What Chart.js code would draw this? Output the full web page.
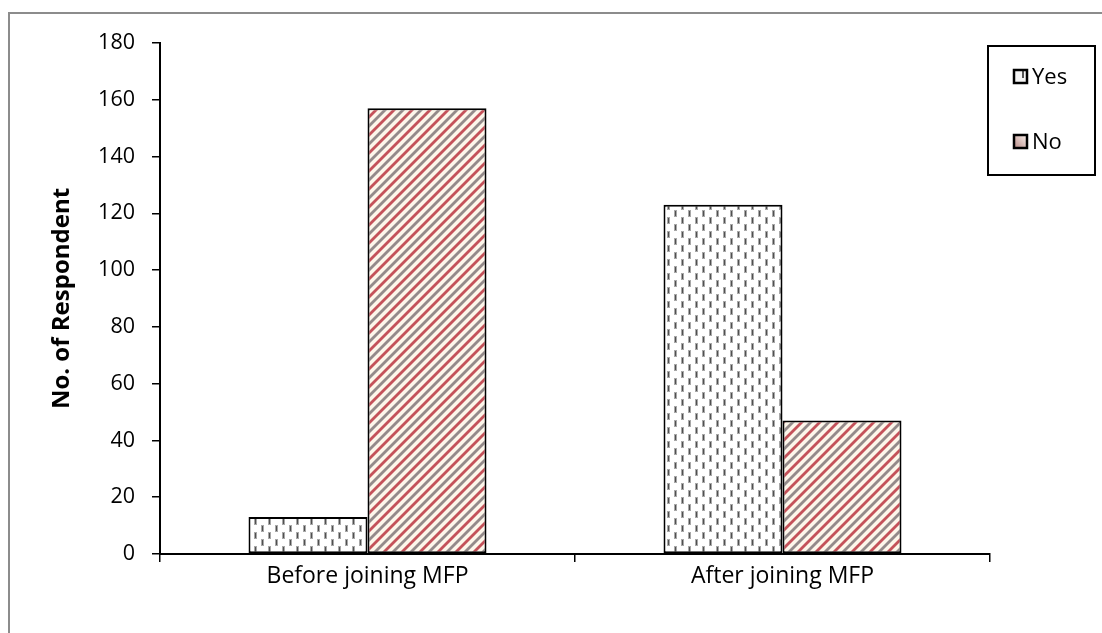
<!DOCTYPE html>
<html>
<head>
<meta charset="utf-8">
<script src="https://cdn.jsdelivr.net/npm/chart.js@4/dist/chart.umd.min.js"></script>
<style>
  html, body { margin: 0; padding: 0; background: #ffffff; }
  #wrap { width: 1102px; height: 633px; position: relative; }
</style>
</head>
<body>
<div id="wrap"><canvas id="chart" width="1102" height="633"></canvas></div>
<script>
// Survey data: respondents answering Yes / No before and after joining MFP
const categories = ['Before joining MFP', 'After joining MFP'];
const seriesNames = ['Yes', 'No'];
const yesValues = [13, 123];
const noValues = [157, 47];
const yTicks = [0, 20, 40, 60, 80, 100, 120, 140, 160, 180];
const yAxisTitle = 'No. of Respondent';

const FONT = '"Open Sans", Lato, sans-serif';
const TICK_SIZE = 21.5;
const LABEL_SIZE = 23;
const TITLE_SIZE = 24;
const LEGEND_SIZE = 22;

// Fill pattern: staggered short vertical dashes on white
function makeDotPattern() {
  const c = document.createElement('canvas');
  c.width = 14; c.height = 14;
  const g = c.getContext('2d');
  g.fillStyle = '#ffffff';
  g.fillRect(0, 0, 14, 14);
  g.fillStyle = '#a8a8a8';
  g.fillRect(2, 0, 3, 7);
  g.fillRect(9, 7, 3, 7);
  g.fillStyle = '#505050';
  g.fillRect(3, 1, 1, 5);
  g.fillRect(10, 8, 1, 5);
  return g.createPattern(c, 'repeat');
}

// Fill pattern: alternating red / grey diagonal stripes on cream
function makeStripePattern() {
  const T = 18, step = 9;
  const c = document.createElement('canvas');
  c.width = T; c.height = T;
  const g = c.getContext('2d');
  g.fillStyle = '#fdf6ea';
  g.fillRect(0, 0, T, T);
  g.lineWidth = 2.8;
  g.lineCap = 'square';
  for (let k = -2; k <= 6; k++) {
    const cc = k * step;
    g.strokeStyle = (k % 2 === 0) ? '#c4525a' : '#948a8a';
    g.beginPath();
    g.moveTo(cc + 20, -20);
    g.lineTo(cc - 40, 40);
    g.stroke();
  }
  return g.createPattern(c, 'repeat');
}

const dotPattern = makeDotPattern();
const stripePattern = makeStripePattern();

// Grey frame on the left and top edges
const framePlugin = {
  id: 'frame',
  beforeDraw(chart) {
    const ctx = chart.ctx;
    ctx.save();
    ctx.fillStyle = '#ffffff';
    ctx.fillRect(0, 0, chart.width, chart.height);
    ctx.strokeStyle = '#8c8c8c';
    ctx.lineWidth = 2;
    ctx.beginPath();
    ctx.moveTo(9, chart.height + 5);
    ctx.lineTo(9, 13);
    ctx.lineTo(chart.width + 5, 13);
    ctx.stroke();
    ctx.restore();
  }
};

// Boxed legend in the top-right corner
const boxLegendPlugin = {
  id: 'boxLegend',
  afterDraw(chart) {
    const ctx = chart.ctx;
    ctx.save();
    ctx.strokeStyle = '#000000';
    ctx.lineWidth = 2;
    ctx.strokeRect(988, 46, 107, 129);
    const rows = [77, 142];
    chart.data.datasets.forEach((ds, i) => {
      const y = rows[i];
      const x = 1014;
      if (i === 0) {
        ctx.fillStyle = '#f4f4f4';
        ctx.fillRect(x, y - 7, 13, 13);
        ctx.fillStyle = '#555555';
        ctx.fillRect(x + 8, y - 6, 2, 7);
      } else {
        const grd = ctx.createLinearGradient(x, y + 6, x + 13, y - 7);
        grd.addColorStop(0, '#b88a86');
        grd.addColorStop(1, '#fbf3ee');
        ctx.fillStyle = grd;
        ctx.fillRect(x, y - 7, 13, 13);
      }
      ctx.strokeStyle = '#000000';
      ctx.lineWidth = 2.5;
      ctx.strokeRect(x, y - 7, 13, 13);
      ctx.fillStyle = '#000000';
      ctx.font = LEGEND_SIZE + 'px ' + FONT;
      ctx.textAlign = 'left';
      ctx.textBaseline = 'middle';
      ctx.fillText(ds.label, 1032, y + 1);
    });
    ctx.restore();
  }
};

new Chart(document.getElementById('chart'), {
  type: 'bar',
  data: {
    labels: categories,
    datasets: [
      {
        label: seriesNames[0],
        data: yesValues,
        backgroundColor: dotPattern,
        borderColor: '#000000',
        borderWidth: 2,
        borderSkipped: false
      },
      {
        label: seriesNames[1],
        data: noValues,
        backgroundColor: stripePattern,
        borderColor: '#000000',
        borderWidth: 2,
        borderSkipped: false
      }
    ]
  },
  options: {
    responsive: false,
    animation: false,
    devicePixelRatio: 1,
    layout: { padding: { left: 48, top: 43, right: 112, bottom: 0 } },
    datasets: {
      bar: { categoryPercentage: 0.5735, barPercentage: 1.0 }
    },
    plugins: {
      legend: { display: false },
      tooltip: { enabled: false }
    },
    scales: {
      x: {
        afterFit(scale) { scale.height = 79; },
        grid: {
          display: true,
          offset: true,
          drawOnChartArea: false,
          drawTicks: true,
          tickLength: 8,
          color: '#000000',
          lineWidth: 1.5
        },
        border: { display: true, color: '#000000', width: 2 },
        ticks: {
          color: '#000000',
          font: { family: FONT, size: LABEL_SIZE },
          padding: 1,
          maxRotation: 0
        }
      },
      y: {
        min: 0,
        max: 180,
        afterFit(scale) { scale.width = 112; },
        afterBuildTicks(scale) { scale.ticks = yTicks.map(v => ({ value: v })); },
        grid: {
          display: true,
          drawOnChartArea: false,
          drawTicks: true,
          tickLength: 8,
          color: '#000000',
          lineWidth: 1.5
        },
        border: { display: true, color: '#000000', width: 2 },
        ticks: {
          color: '#000000',
          font: { family: FONT, size: TICK_SIZE },
          padding: 17
        },
        title: {
          display: true,
          text: yAxisTitle,
          color: '#000000',
          font: { family: FONT, size: TITLE_SIZE, weight: 'bold' },
          padding: 0
        }
      }
    }
  },
  plugins: [framePlugin, boxLegendPlugin]
});
</script>
</body>
</html>
